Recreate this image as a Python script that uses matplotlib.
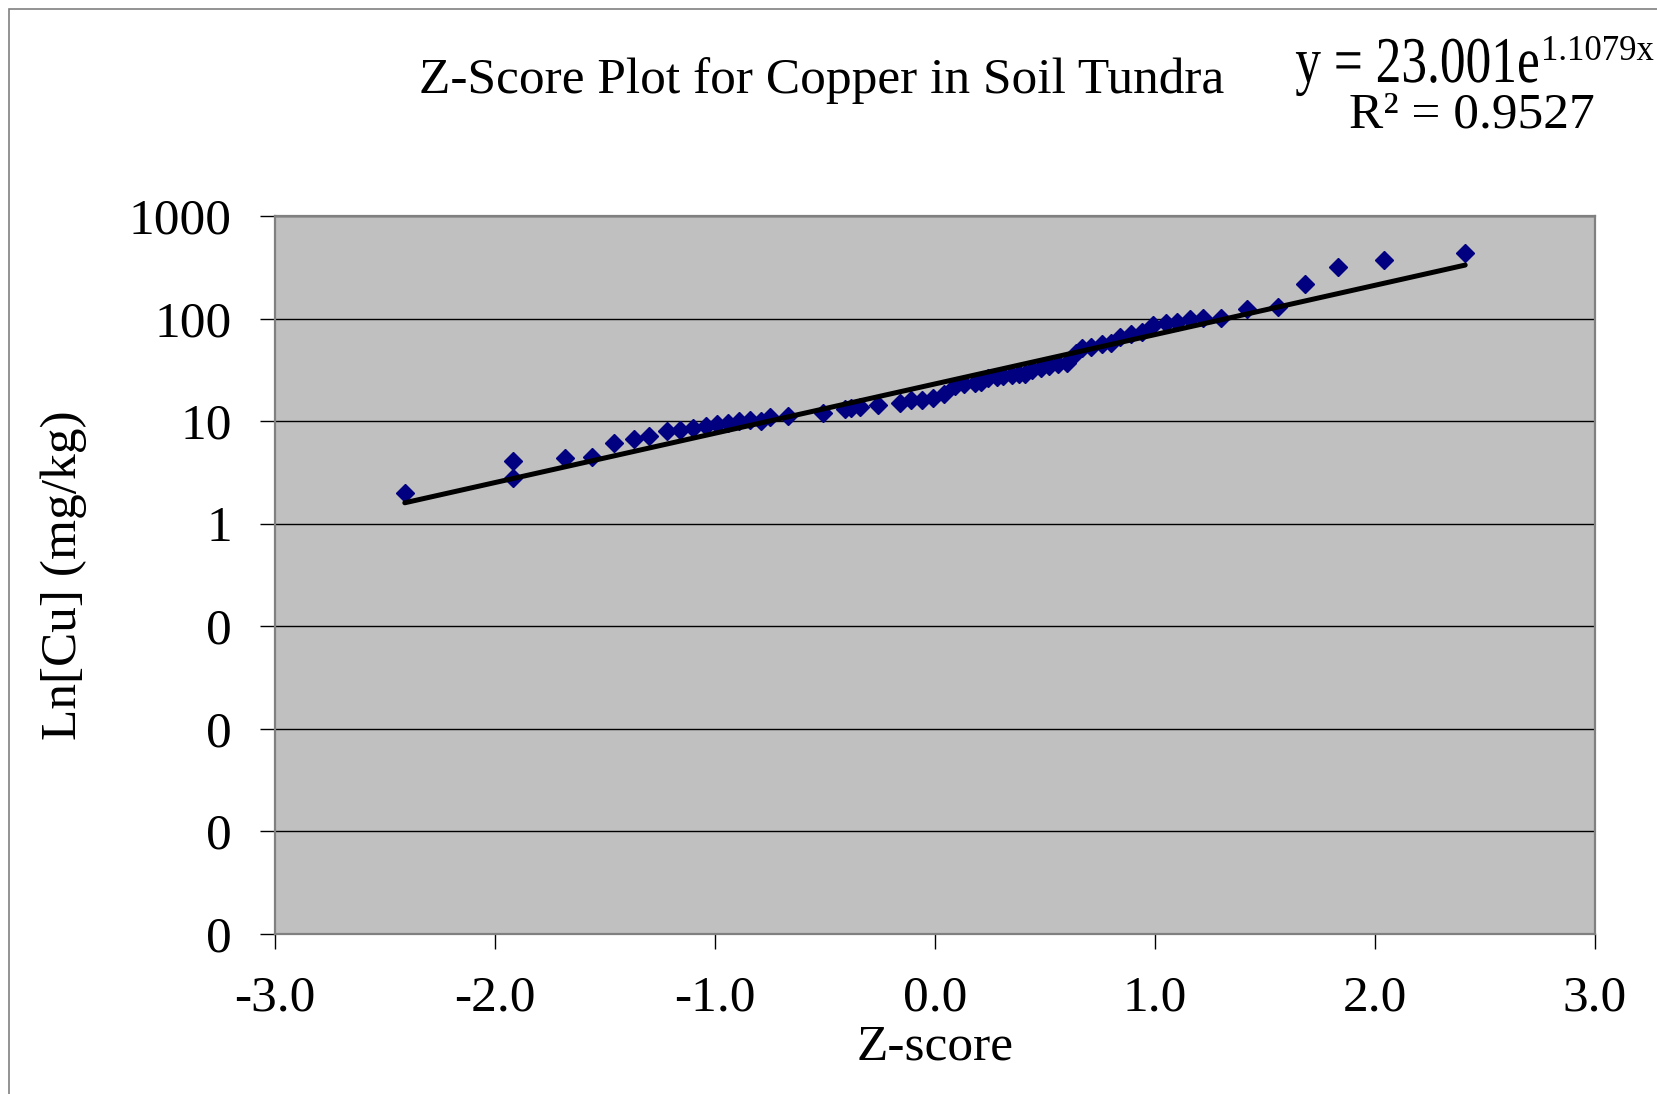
import matplotlib
matplotlib.use("Agg")
import matplotlib.pyplot as plt
from matplotlib.patches import Rectangle, PathPatch
from matplotlib.textpath import TextPath
from matplotlib.font_manager import FontProperties
from matplotlib.transforms import Affine2D
from matplotlib.ticker import FixedLocator, FuncFormatter
import numpy as np

plt.rcParams['font.family'] = ['Liberation Serif', 'DejaVu Serif']

# z-scores and copper concentrations (mg/kg)
z_score = [-2.41, -1.92, -1.92, -1.68, -1.56, -1.46, -1.37, -1.30, -1.22, -1.16,
           -1.10, -1.04, -0.99, -0.94, -0.89, -0.84, -0.79, -0.75, -0.67, -0.51,
           -0.41, -0.38, -0.34, -0.26, -0.16, -0.11, -0.06, -0.01, 0.04, 0.09,
           0.13, 0.18, 0.21, 0.24, 0.28, 0.31, 0.35, 0.38, 0.41, 0.44,
           0.48, 0.52, 0.56, 0.60, 0.64, 0.67, 0.71, 0.76, 0.80, 0.84,
           0.89, 0.94, 0.99, 1.05, 1.10, 1.16, 1.22, 1.30, 1.42, 1.56,
           1.68, 1.83, 2.04, 2.41]
copper = [2.0, 4.1, 2.8, 4.4, 4.5, 6.1, 6.7, 7.1, 8.0, 8.2,
          8.5, 9.0, 9.3, 9.6, 9.9, 10.2, 10.1, 10.9, 11.2, 12.0,
          13.0, 13.3, 13.8, 14.2, 15.1, 16.0, 16.0, 16.7, 18.2, 22.1,
          22.8, 23.6, 24.2, 26.1, 27.1, 27.5, 28.1, 28.6, 28.7, 31.4,
          33.1, 34.6, 36.0, 37.1, 45.8, 51.9, 53.1, 56.4, 58.1, 66.4,
          70.2, 74.3, 86.4, 89.8, 93.1, 98.2, 101.0, 101.0, 123.0, 130.0,
          217.0, 320.0, 372.0, 433.0]

# exponential trendline y = a * e^(b x) as printed on the chart
fit_a = 23.001
fit_b = 1.1079
fit_r2 = 0.9527

y_ticks = [1e-4, 1e-3, 1e-2, 1e-1, 1, 10, 100, 1000]
x_ticks = [-3.0, -2.0, -1.0, 0.0, 1.0, 2.0, 3.0]

W, H = 1658, 1094
FS = 37
fig = plt.figure(figsize=(W / 100, H / 100), dpi=100)

# chart area frame (only its top and left edges fall inside the picture)
fig.add_artist(Rectangle((9 / W, -0.5), 2, 1.5 - 9 / H, transform=fig.transFigure,
                         fill=False, edgecolor='#808080', linewidth=1.2))

ax = fig.add_axes([275 / W, 1 - 933.5 / H, (1595 - 275) / W, (933.5 - 216) / H])
ax.set_facecolor('#c0c0c0')
for s in ax.spines.values():
    s.set_color('#808080')
    s.set_linewidth(1.6)

ax.set_yscale('log')
ax.set_xlim(-3, 3)
ax.set_ylim(1e-4, 1e3)
ax.yaxis.set_major_locator(FixedLocator(y_ticks))
ax.yaxis.set_minor_locator(FixedLocator([]))
ax.yaxis.set_major_formatter(FuncFormatter(lambda v, p: f"{v:.0f}"))
ax.xaxis.set_major_locator(FixedLocator(x_ticks))
ax.xaxis.set_major_formatter(FuncFormatter(lambda v, p: f"{v:.1f}"))
ax.grid(axis='y', color='black', linewidth=1.0)
ax.set_axisbelow(True)
ax.tick_params(axis='both', direction='out', length=11, width=1.0, color='black',
               labelsize=FS, pad=19)
ax.tick_params(axis='y', pad=20)

ax.plot(z_score, copper, linestyle='none', marker='D', markersize=9,
        color='#000080', zorder=3)

zx = np.array([min(z_score), max(z_score)])
ax.plot(zx, fit_a * np.exp(fit_b * zx), color='black', linewidth=3.6, zorder=4,
        solid_capstyle='round')

ax.set_xlabel('Z-score', fontsize=FS, labelpad=2)
ax.set_ylabel('Ln[Cu] (mg/kg)', fontsize=FS, labelpad=30)

fig.text(822 / W, 1 - 93 / H, 'Z-Score Plot for Copper in Soil Tundra',
         fontsize=FS, ha='center', va='baseline')

# first line of the trendline label is drawn a little stretched vertically
eq = TextPath((0, 0), f'y = {fit_a:.3f}e', size=FS * 100 / 72,
              prop=FontProperties(family='Liberation Serif'))
eq_w = eq.get_extents().x1
eq_right = 1538
fig.add_artist(PathPatch(eq, facecolor='black', edgecolor='none',
                         transform=Affine2D().scale(1, 1.27).translate(eq_right - eq_w, H - 82)))
fig.text((eq_right + 3) / W, 1 - 60 / H, f'{fit_b:.4f}x', fontsize=25, ha='left',
         va='baseline')
fig.text(1472 / W, 1 - 127 / H, f'R² = {fit_r2:.4f}', fontsize=FS, ha='center',
         va='baseline')

fig.savefig('out.png', dpi=100)
